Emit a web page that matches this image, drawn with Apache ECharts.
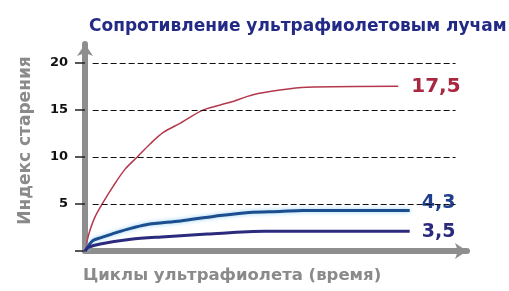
<!DOCTYPE html>
<html><head><meta charset="utf-8">
<script src="https://cdn.jsdelivr.net/npm/echarts@6/dist/echarts.min.js"></script>
<style>html,body{margin:0;padding:0;background:#fff}#c{width:509px;height:291px}</style>
</head><body><div id="c"></div>
<script>
var title = 'Сопротивление ультрафиолетовым лучам';
var yName = 'Индекс старения';
var xName = 'Циклы ультрафиолета (время)';
var yTicks = [5, 10, 15, 20];
var redX = [0, 0.5, 1.3, 2.6, 4.5, 7.4, 10.5, 13.7, 17.1, 20.5, 25, 31, 38, 44, 51, 58, 82];
var redY = [0, 1.0, 2.2, 3.6, 5, 6.9, 8.7, 10, 11.4, 12.6, 13.6, 15, 15.8, 16.6, 17.1, 17.4, 17.5];
var blueX = [0, 1, 2, 4, 7, 11, 16, 25, 34, 43, 51, 57, 85];
var blueY = [0, 0.6, 1.1, 1.4, 1.8, 2.3, 2.8, 3.2, 3.7, 4.1, 4.2, 4.3, 4.3];
var navyX = [0, 1, 4, 12, 20, 32, 47, 85];
var navyY = [0, 0.4, 0.75, 1.25, 1.5, 1.8, 2.1, 2.1];
var endLabels = ['17,5', '4,3', '3,5'];

function pairs(xs, ys) { return xs.map(function (x, i) { return [x, ys[i]]; }); }

var chart = echarts.init(document.getElementById('c'));
chart.setOption({
  animation: false,
  title: { text: title, left: 84, top: 13, textStyle: { color: '#232a86', fontSize: 17, fontWeight: 'bold', fontFamily: 'DejaVu Sans' } },
  grid: { left: 85, right: 42, top: 44, bottom: 40 },
  xAxis: {
    type: 'value', min: 0, max: 100,
    name: xName, nameLocation: 'start', nameGap: 0,
    nameTextStyle: { color: '#8a8a8a', fontSize: 16.5, fontWeight: 'bold', fontFamily: 'DejaVu Sans', align: 'left', verticalAlign: 'top', padding: [16, 0, 0, -2] },
    axisLine: { lineStyle: { color: '#8e8e8e', width: 6 }, symbol: ['none', 'arrow'], symbolSize: [12, 12] },
    axisTick: { show: false }, axisLabel: { show: false }, splitLine: { show: false }
  },
  yAxis: {
    type: 'value', min: 0, max: 22, interval: 5,
    name: yName, nameLocation: 'middle', nameGap: 51, nameRotate: 90,
    nameTextStyle: { color: '#8a8a8a', fontSize: 17, fontWeight: 'bold', fontFamily: 'DejaVu Sans', padding: [0, 0, 0, 14] },
    axisLine: { lineStyle: { color: '#8e8e8e', width: 6 }, symbol: ['none', 'arrow'], symbolSize: [12, 12] },
    axisTick: { show: true, length: 10, customValues: [0, 5, 10, 15, 20], lineStyle: { color: '#222', width: 1.5 } },
    axisLabel: { customValues: yTicks, margin: 17, color: '#111', fontSize: 13, fontWeight: 'bold', fontFamily: 'DejaVu Sans' },
    splitLine: { show: false }
  },
  series: [
    {
      type: 'line', data: pairs(redX, redY), showSymbol: false, smooth: 0.3,
      lineStyle: { color: '#b5374c', width: 1.5 },
      endLabel: { show: true, formatter: endLabels[0], color: '#a8283f', fontSize: 20, fontWeight: 'bold', fontFamily: 'DejaVu Sans', distance: 13 },
      markLine: {
        silent: true, symbol: 'none', label: { show: false },
        lineStyle: { color: '#111', type: [6, 3], width: 1.2 },
        data: yTicks.map(function (v) { return [{ coord: [2, v] }, { coord: [97, v] }]; })
      },
      z: 3
    },
    {
      type: 'line', data: pairs(blueX, blueY), showSymbol: false, smooth: 0.3,
      lineStyle: { color: '#1c4d8e', width: 3, shadowColor: '#8fd0f2', shadowBlur: 4 },
      endLabel: { show: true, formatter: endLabels[1], color: '#1f3f8c', fontSize: 19, fontWeight: 'bold', fontFamily: 'DejaVu Sans', distance: 12, offset: [0, -7] },
      z: 4
    },
    {
      type: 'line', data: pairs(navyX, navyY), showSymbol: false, smooth: 0.3,
      lineStyle: { color: '#2c2a7c', width: 3 },
      endLabel: { show: true, formatter: endLabels[2], color: '#2c2a7c', fontSize: 19, fontWeight: 'bold', fontFamily: 'DejaVu Sans', distance: 12, offset: [0, 1] },
      z: 4
    }
  ]
});
</script></body></html>
